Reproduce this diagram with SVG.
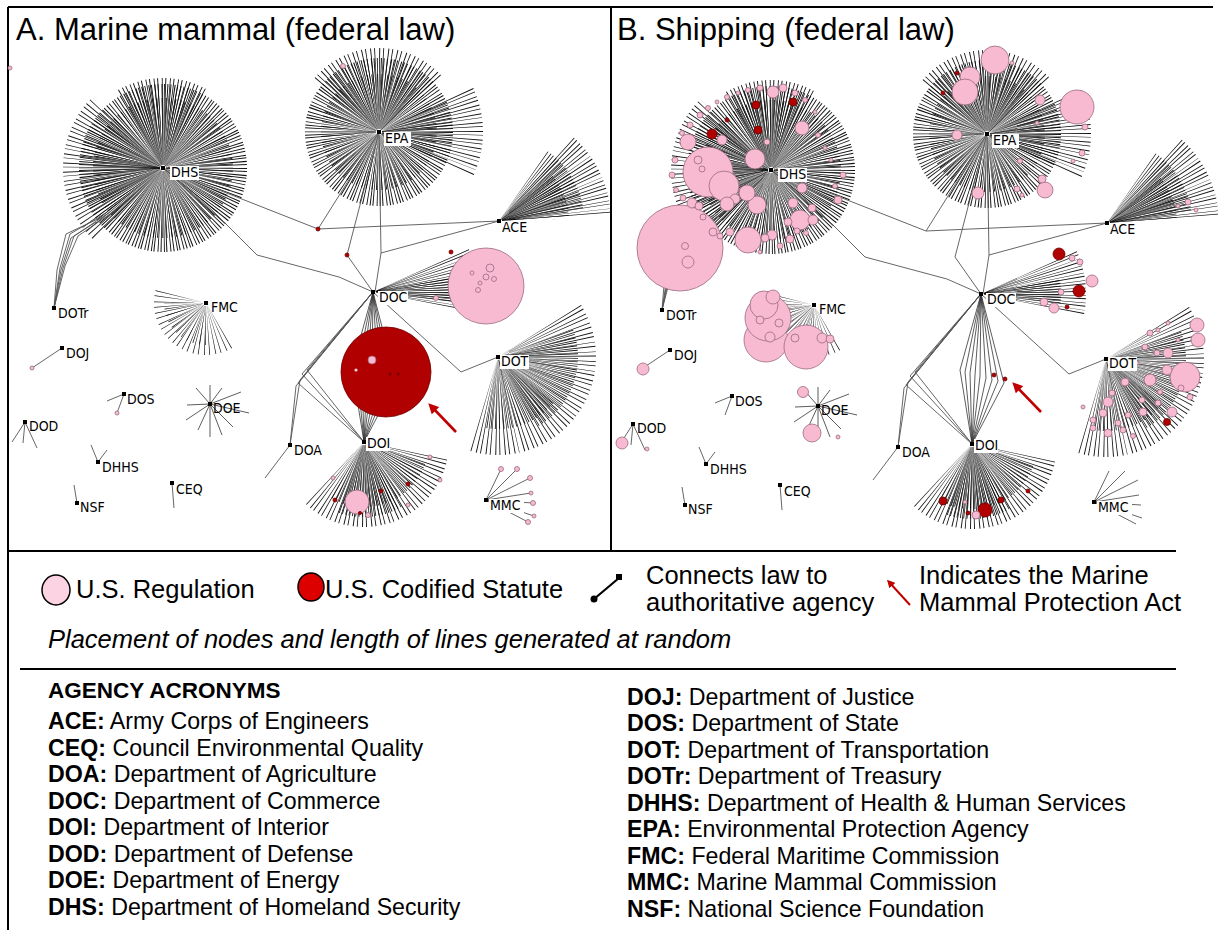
<svg xmlns="http://www.w3.org/2000/svg" xmlns:xlink="http://www.w3.org/1999/xlink" width="1218" height="930" viewBox="0 0 1218 930">
<style>
.sp{fill:none;stroke:#111}
.ln{fill:none;stroke:#555;stroke-width:0.9}
.sk{fill:none;stroke:#333;stroke-width:0.8}
.pk{fill:#f7bad0;stroke:#9b6a80;stroke-width:0.8}
.rd{fill:#b00000;stroke:#700000;stroke-width:0.8}
.hub{fill:#000}
.lbg{fill:#fff}
.lb{font-family:'DejaVu Sans Condensed','DejaVu Sans',sans-serif;font-stretch:condensed;font-size:14px;fill:#000}
.t1{font-family:'Liberation Sans',Arial,sans-serif;font-size:31px;fill:#000}
.lg{font-family:'Liberation Sans',Arial,sans-serif;font-size:25.5px;fill:#000}
.ls{font-family:'Liberation Sans',Arial,sans-serif;font-size:23.2px;fill:#000}
.fr{stroke:#000;stroke-width:2;fill:none}
.arr{stroke:#c00000;stroke-width:2.6;fill:none}
</style>
<defs>
<marker id="ah" markerWidth="4" markerHeight="4" refX="2.5" refY="2" orient="auto" markerUnits="strokeWidth">
<path d="M0,0 L4,2 L0,4 z" fill="#c00000"/>
</marker>
<g id="edges">
<!-- DHS burst -->
<circle class="sp" cx="163" cy="168" r="43.5" stroke-width="81" stroke-dasharray="0.55 1.1 0.5 1.6 0.55 0.8 0.5 1.3"/>
<circle class="sp" cx="163" cy="168" r="36.5" stroke-width="67" stroke-dasharray="0.5 1.7 0.55 2.3" stroke-dashoffset="0.7"/>
<path class="sp" d="M126.58 204.42 A51.5 51.5 0 0 1 126.58 131.58" stroke-width="97" stroke-dasharray="0.5 2.2 0.45 1.6"/>
<path class="sp" d="M139.75 127.73 A46.5 46.5 0 0 1 186.25 127.73" stroke-width="87" stroke-dasharray="0.5 1.9 0.45 1.4"/>
<!-- EPA burst -->
<circle class="sp" cx="379" cy="132" r="38.5" stroke-width="71" stroke-dasharray="0.55 1.2 0.5 1.7 0.55 0.9"/>
<circle class="sp" cx="379" cy="132" r="30.5" stroke-width="55" stroke-dasharray="0.5 1.9 0.5 2.6" stroke-dashoffset="0.5"/>
<path class="sp" d="M427.49 109.39 A53.5 53.5 0 0 1 427.49 154.61" stroke-width="101" stroke-dasharray="0.5 1.5 0.45 2.1"/>
<path class="sp" d="M345.68 104.04 A43.5 43.5 0 0 1 412.32 104.04" stroke-width="81" stroke-dasharray="0.5 1.6 0.45 2.2"/>
<!-- ACE fan -->
<path class="sp" d="M537.47 178.27 A57.5 57.5 0 0 1 556.36 216.99" stroke-width="109" stroke-dasharray="0.45 1.3 0.5 1.9"/>
<path class="sp" d="M524.24 184.96 A44 44 0 0 1 542.57 214.88" stroke-width="82" stroke-dasharray="0.45 1.5 0.45 1.1"/>
<path class="sp" d="M526.96 197.54 A36.5 36.5 0 0 1 535.48 219.73" stroke-width="67" stroke-dasharray="0.45 1.4"/>
<!-- DOC fan -->
<path class="sp" d="M422.33 270.04 A54 54 0 0 1 425.82 303.23" stroke-width="102" stroke-dasharray="0.45 1.2 0.5 1.7"/>
<path class="sp" d="M413.87 284.8 A41.5 41.5 0 0 1 414.1 297.78" stroke-width="77" stroke-dasharray="0.45 1.0"/>
<!-- DOI fan -->
<path class="sp" d="M407.04 451.15 A44 44 0 0 1 332.89 473.11" stroke-width="82" stroke-dasharray="0.45 1.6 0.5 2.3"/>
<path class="sp" d="M395.95 453.63 A34 34 0 0 1 347 471.44" stroke-width="62" stroke-dasharray="0.45 1.4 0.45 1.9"/>
<path class="sp" d="M383.5 475.77 A39 39 0 0 1 350.66 478.65" stroke-width="72" stroke-dasharray="0.45 1.3"/>
<!-- DOT fan -->
<path class="sp" d="M540.82 330.24 A50.5 50.5 0 0 1 482.4 405.03" stroke-width="95" stroke-dasharray="0.45 1.7 0.5 2.4"/>
<path class="sp" d="M537 342.81 A41.5 41.5 0 0 1 518.75 392.94" stroke-width="77" stroke-dasharray="0.45 1.9 0.45 1.4"/>
<path class="sp" d="M526.73 381.1 A37.5 37.5 0 0 1 491.49 393.93" stroke-width="69" stroke-dasharray="0.45 1.8"/>
<!-- FMC fan -->
<path class="sp" d="M219.75 326.82 A27.5 27.5 0 0 1 179.44 295.88" stroke-width="49" stroke-dasharray="0.4 2.4 0.4 2.9"/>
<path class="sp" d="M206 325.5 A22.5 22.5 0 0 1 183.5 303" stroke-width="39" stroke-dasharray="0.4 3.1"/>
<!-- connectors between agencies -->
<path class="ln" d="M163 168 L212 210 L257 255 L339 277 L373 292"/>
<path class="ln" d="M163 168 L318 229 L499 221 M318 229 L379 132"/>
<path class="ln" d="M379 132 L347 255 L373 292 M379 132 L381 253 L375 292 M381 253 L499 221"/>
<path class="ln" d="M373 292 L461 372 L498 357"/>
<path class="ln" d="M54 308 L60 268 L70 234 L104 214 M54 308 L63 268 L74 236 L110 212 M54 308 L57 270 L66 234 L100 218 M54 308 L65 266 L78 236 L116 210 M54 308 L61 270 L71 238 L96 222"/>
<path class="sk" d="M373 292 L352 368 L364 442 M373 292 L357 370 L364 442 M373 292 L362 371 L364 442 M373 292 L367 373 L364 442 M373 292 L372 374 L364 442 M373 292 L378 376 L364 442 M373 292 L384 378 L364 442 M373 292 L390 379 L364 442 M373 292 L396 381 L364 442"/>
<path class="ln" d="M373 292 L296 386 L290 445 M373 292 L300 380 L290 445 M373 292 L302 374 L364 442 M373 292 L307 370 L364 442 M373 292 L298 383 L364 442 M290 445 L265 478"/>
<path class="ln" d="M62 348 L32 368 M124 394 L107 401 M124 394 L117 413 M25 422 L12 442 M25 422 L23 443 M25 422 L37 448 M98 462 L91 445 M98 462 L107 450 M77 503 L74 485 M172 483 L174 508"/>
<path class="sk" d="M210 404 L187 405 M210 404 L196 388 M210 404 L210 385 M210 404 L222 388 M210 404 L241 392 M210 404 L249 413 M210 404 L233 427 M210 404 L222 435 M210 404 L210 437 M210 404 L198 430 M210 404 L186 420"/>
<path class="ln" d="M486 500 L501 469 M486 500 L517 469 M486 500 L530 478 M486 500 L531 493 M486 500 L533 503 M486 500 L534 516 M486 500 L528 522"/>
</g>
</defs>

<!-- frame -->
<g id="frame">
<path class="fr" d="M8 7 L1213 7 M8 7 L8 930 M611 7 L611 551 M8 551 L1176 551 M20 669 L1176 669"/>
</g>

<!-- titles -->
<text class="t1" x="16" y="40">A. Marine mammal (federal law)</text>
<text class="t1" x="617" y="40">B. Shipping (federal law)</text>

<!-- connectors -->
<g id="connectors">
<use xlink:href="#edges" href="#edges"/>
<use xlink:href="#edges" href="#edges" transform="translate(608,2)"/>
</g>

<!-- Panel A law nodes -->
<g id="laws-A">
<circle class="pk" cx="10" cy="68" r="2"/>
<circle class="pk" cx="343" cy="66" r="2.5"/>
<circle class="rd" cx="318" cy="229" r="2"/>
<circle class="rd" cx="347" cy="255" r="2"/>
<circle class="rd" cx="451" cy="252" r="2"/>
<circle class="pk" cx="436" cy="298" r="2.5"/>
<circle class="pk" cx="486" cy="286" r="38"/>
<circle class="pk" cx="490" cy="268" r="4"/>
<circle class="pk" cx="486" cy="277" r="3"/>
<circle class="pk" cx="480" cy="283" r="2"/>
<circle class="pk" cx="478" cy="290" r="2.5"/>
<circle class="pk" cx="494" cy="279" r="2.5"/>
<circle class="pk" cx="472" cy="273" r="2"/>
<circle class="rd" cx="386" cy="372" r="45"/>
<circle class="pk" cx="372" cy="360" r="4"/>
<circle cx="356" cy="370" r="1.6" fill="#f6d6dc"/>
<circle cx="390" cy="374" r="1.6" fill="#7a0000"/>
<circle cx="398" cy="374" r="1.6" fill="#7a0000"/>
<circle class="pk" cx="357" cy="502" r="12"/>
<circle class="pk" cx="430" cy="457" r="2"/>
<circle class="pk" cx="440" cy="480" r="2"/>
<circle class="pk" cx="408" cy="505" r="2"/>
<circle class="pk" cx="333" cy="478" r="2"/>
<circle class="rd" cx="335" cy="500" r="2"/>
<circle class="rd" cx="381" cy="491" r="2"/>
<circle class="rd" cx="408" cy="484" r="2"/>
<circle class="pk" cx="368" cy="515" r="2.5"/>
<circle class="rd" cx="360" cy="513" r="1.6"/>
<circle class="pk" cx="32" cy="368" r="2"/>
<circle class="pk" cx="117" cy="413" r="2"/>
<circle class="pk" cx="501" cy="469" r="2.5"/>
<circle class="pk" cx="517" cy="469" r="2.5"/>
<circle class="pk" cx="530" cy="478" r="2.5"/>
<circle class="pk" cx="531" cy="493" r="2"/>
<circle class="pk" cx="533" cy="503" r="2.5"/>
<circle class="pk" cx="534" cy="516" r="2"/>
<circle class="pk" cx="528" cy="522" r="2.5"/>
</g>

<!-- Panel B law nodes -->
<g id="laws-B">
<circle class="pk" cx="680" cy="248" r="43"/>
<circle class="pk" cx="685" cy="246" r="3.5"/>
<circle class="pk" cx="688" cy="262" r="6"/>
<circle class="pk" cx="708" cy="172" r="25"/>
<circle class="pk" cx="698" cy="160" r="4"/>
<circle class="pk" cx="702" cy="169" r="3"/>
<circle class="pk" cx="724" cy="186" r="15"/>
<circle class="pk" cx="755" cy="159" r="10"/>
<circle class="pk" cx="757" cy="205" r="9"/>
<circle class="pk" cx="748" cy="240" r="13"/>
<circle class="pk" cx="747" cy="193" r="8"/>
<circle class="pk" cx="688" cy="142" r="8"/>
<circle class="pk" cx="802" cy="128" r="7"/>
<circle class="pk" cx="773" cy="92" r="6"/>
<circle class="pk" cx="783" cy="88" r="4"/>
<circle class="pk" cx="800" cy="220" r="10"/>
<circle class="pk" cx="802" cy="188" r="5"/>
<circle class="pk" cx="793" cy="203" r="5"/>
<circle class="pk" cx="722" cy="140" r="5"/>
<circle class="pk" cx="767" cy="142" r="3"/>
<circle class="pk" cx="813" cy="220" r="5"/>
<circle class="pk" cx="788" cy="222" r="4"/>
<circle class="pk" cx="772" cy="235" r="5"/>
<circle class="pk" cx="765" cy="238" r="4"/>
<circle class="pk" cx="692" cy="203" r="5"/>
<circle class="pk" cx="699" cy="206" r="4"/>
<circle class="pk" cx="683" cy="198" r="3"/>
<circle class="pk" cx="703" cy="217" r="3"/>
<circle class="pk" cx="713" cy="232" r="4"/>
<circle class="pk" cx="720" cy="236" r="3"/>
<circle class="pk" cx="730" cy="232" r="4"/>
<circle class="pk" cx="735" cy="199" r="5"/>
<circle class="pk" cx="727" cy="204" r="7"/>
<circle class="pk" cx="838" cy="200" r="4"/>
<circle class="pk" cx="843" cy="175" r="3"/>
<circle class="pk" cx="835" cy="186" r="2.5"/>
<circle class="pk" cx="831" cy="160" r="2"/>
<circle class="pk" cx="825" cy="148" r="2"/>
<circle class="pk" cx="818" cy="135" r="2.5"/>
<circle class="pk" cx="812" cy="208" r="4"/>
<circle class="pk" cx="700" cy="115" r="3"/>
<circle class="pk" cx="708" cy="108" r="2.5"/>
<circle class="pk" cx="717" cy="102" r="2"/>
<circle class="pk" cx="727" cy="97" r="2.5"/>
<circle class="pk" cx="738" cy="93" r="2"/>
<circle class="pk" cx="748" cy="90" r="2.5"/>
<circle class="pk" cx="760" cy="88" r="3"/>
<circle class="pk" cx="795" cy="93" r="3"/>
<circle class="pk" cx="805" cy="100" r="2.5"/>
<circle class="pk" cx="815" cy="112" r="2"/>
<circle class="pk" cx="690" cy="125" r="3"/>
<circle class="pk" cx="682" cy="133" r="2.5"/>
<circle class="pk" cx="675" cy="160" r="3"/>
<circle class="pk" cx="672" cy="175" r="3"/>
<circle class="pk" cx="676" cy="190" r="2.5"/>
<circle class="pk" cx="780" cy="246" r="3"/>
<circle class="pk" cx="790" cy="239" r="4"/>
<circle class="pk" cx="797" cy="231" r="3"/>
<circle class="pk" cx="806" cy="233" r="2.5"/>
<circle class="pk" cx="760" cy="252" r="2"/>
<circle class="rd" cx="756" cy="105" r="4"/>
<circle class="rd" cx="793" cy="102" r="4"/>
<circle class="rd" cx="712" cy="134" r="5"/>
<circle class="rd" cx="758" cy="130" r="4"/>
<circle class="rd" cx="727" cy="120" r="2"/>
<!-- EPA B -->
<circle class="pk" cx="995" cy="60" r="14"/>
<circle class="pk" cx="970" cy="77" r="10"/>
<circle class="pk" cx="965" cy="92" r="13"/>
<circle class="pk" cx="1077" cy="107" r="17"/>
<circle class="pk" cx="1040" cy="100" r="5"/>
<circle class="pk" cx="1085" cy="127" r="3"/>
<circle class="pk" cx="957" cy="135" r="5"/>
<circle class="pk" cx="1082" cy="153" r="3"/>
<circle class="pk" cx="1073" cy="161" r="2"/>
<circle class="pk" cx="1045" cy="190" r="8"/>
<circle class="pk" cx="1042" cy="179" r="4"/>
<circle class="pk" cx="978" cy="193" r="6"/>
<circle class="pk" cx="1017" cy="189" r="3"/>
<circle class="pk" cx="1020" cy="161" r="2.5"/>
<circle class="pk" cx="1012" cy="63" r="2"/>
<circle class="pk" cx="1037" cy="123" r="2"/>
<circle class="pk" cx="1022" cy="195" r="2"/>
<circle class="rd" cx="957" cy="73" r="2"/>
<circle class="rd" cx="943" cy="93" r="2"/>
<!-- ACE B -->
<circle class="pk" cx="1188" cy="202" r="3"/>
<circle class="pk" cx="1196" cy="210" r="2"/>
<circle class="pk" cx="1178" cy="206" r="2"/>
<!-- DOC B -->
<circle class="rd" cx="1059" cy="254" r="6"/>
<circle class="pk" cx="1072" cy="258" r="3"/>
<circle class="pk" cx="1080" cy="262" r="3"/>
<circle class="pk" cx="1092" cy="281" r="6"/>
<circle class="rd" cx="1079" cy="291" r="6"/>
<circle class="pk" cx="1061" cy="292" r="3"/>
<circle class="pk" cx="1044" cy="302" r="4"/>
<circle class="pk" cx="1054" cy="308" r="5"/>
<circle class="rd" cx="1067" cy="307" r="2"/>
<!-- DOT B -->
<circle class="pk" cx="1185" cy="377" r="15"/>
<circle class="pk" cx="1181" cy="388" r="3"/>
<circle class="pk" cx="1197" cy="325" r="7"/>
<circle class="pk" cx="1198" cy="340" r="7"/>
<circle class="pk" cx="1168" cy="353" r="5"/>
<circle class="pk" cx="1167" cy="370" r="5"/>
<circle class="pk" cx="1150" cy="380" r="6"/>
<circle class="pk" cx="1157" cy="353" r="3"/>
<circle class="pk" cx="1145" cy="347" r="3"/>
<circle class="pk" cx="1150" cy="333" r="3"/>
<circle class="pk" cx="1168" cy="323" r="2"/>
<circle class="pk" cx="1158" cy="330" r="2"/>
<circle class="pk" cx="1125" cy="382" r="4"/>
<circle class="pk" cx="1112" cy="393" r="3"/>
<circle class="pk" cx="1108" cy="402" r="5"/>
<circle class="pk" cx="1103" cy="413" r="4"/>
<circle class="pk" cx="1093" cy="420" r="3"/>
<circle class="pk" cx="1093" cy="428" r="3"/>
<circle class="pk" cx="1108" cy="433" r="4"/>
<circle class="pk" cx="1118" cy="423" r="3"/>
<circle class="pk" cx="1128" cy="415" r="3"/>
<circle class="pk" cx="1143" cy="412" r="4"/>
<circle class="pk" cx="1142" cy="400" r="3"/>
<circle class="pk" cx="1158" cy="403" r="3"/>
<circle class="pk" cx="1172" cy="412" r="5"/>
<circle class="pk" cx="1123" cy="430" r="3"/>
<circle class="pk" cx="1133" cy="436" r="2.5"/>
<circle class="pk" cx="1083" cy="407" r="2"/>
<circle class="pk" cx="1137" cy="363" r="2"/>
<circle class="pk" cx="1178" cy="340" r="2"/>
<circle class="pk" cx="1190" cy="397" r="3"/>
<circle class="pk" cx="1160" cy="392" r="2.5"/>
<circle class="rd" cx="1167" cy="422" r="3.5"/>
<!-- FMC B -->
<circle class="pk" cx="766" cy="340" r="22"/>
<circle class="pk" cx="768" cy="318" r="23"/>
<circle class="pk" cx="806" cy="347" r="22"/>
<circle class="pk" cx="764" cy="305" r="14"/>
<circle class="pk" cx="773" cy="297" r="7"/>
<circle class="pk" cx="760" cy="320" r="4"/>
<circle class="pk" cx="779" cy="323" r="4"/>
<circle class="pk" cx="770" cy="337" r="5"/>
<circle class="pk" cx="795" cy="338" r="4"/>
<circle class="pk" cx="822" cy="338" r="5"/>
<circle class="pk" cx="830" cy="339" r="4"/>
<!-- small agencies B -->
<circle class="pk" cx="643" cy="369" r="6"/>
<circle class="pk" cx="622" cy="443" r="6"/>
<circle class="pk" cx="647" cy="449" r="2"/>
<circle class="pk" cx="803" cy="392" r="5.5"/>
<circle class="pk" cx="812" cy="433" r="9"/>
<circle class="pk" cx="838" cy="437" r="2"/>
<!-- DOI B -->
<circle class="rd" cx="985" cy="510" r="7"/>
<circle class="pk" cx="976" cy="515" r="4"/>
<circle class="rd" cx="943" cy="501" r="4"/>
<circle class="rd" cx="1001" cy="500" r="3"/>
<circle class="rd" cx="1028" cy="491" r="2"/>
<circle class="rd" cx="968" cy="513" r="2"/>
<circle class="pk" cx="965" cy="502" r="2"/>
<circle class="rd" cx="994" cy="375" r="2"/>
<circle class="rd" cx="1005" cy="379" r="2"/>
</g>

<!-- Agency nodes, panel A -->
<g id="agencies-A" class="lb">
<g id="a-DHS"><rect class="hub" x="161" y="166" width="4" height="4"/><rect class="lbg" x="170" y="166" width="29" height="14"/><text x="171" y="177">DHS</text></g>
<g id="a-EPA"><rect class="hub" x="377" y="130" width="4" height="4"/><rect class="lbg" x="384" y="132" width="27" height="14"/><text x="385" y="143">EPA</text></g>
<g id="a-ACE"><rect class="hub" x="497" y="219" width="4" height="4"/><rect class="lbg" x="501" y="221" width="28" height="14"/><text x="502" y="232">ACE</text></g>
<g id="a-DOC"><rect class="hub" x="371" y="290" width="4" height="4"/><rect class="lbg" x="378" y="291" width="30" height="14"/><text x="379" y="302">DOC</text></g>
<g id="a-DOTr"><rect class="hub" x="52" y="306" width="4" height="4"/><text x="58" y="318">DOTr</text></g>
<g id="a-FMC"><rect class="hub" x="204" y="301" width="4" height="4"/><text x="211" y="312">FMC</text></g>
<g id="a-DOJ"><rect class="hub" x="60" y="346" width="4" height="4"/><text x="66" y="358">DOJ</text></g>
<g id="a-DOS"><rect class="hub" x="122" y="392" width="4" height="4"/><text x="127" y="404">DOS</text></g>
<g id="a-DOE"><rect class="hub" x="208" y="402" width="4" height="4"/><text x="213" y="413">DOE</text></g>
<g id="a-DOD"><rect class="hub" x="23" y="420" width="4" height="4"/><text x="29" y="431">DOD</text></g>
<g id="a-DHHS"><rect class="hub" x="96" y="460" width="4" height="4"/><text x="102" y="472">DHHS</text></g>
<g id="a-CEQ"><rect class="hub" x="170" y="481" width="4" height="4"/><text x="176" y="494">CEQ</text></g>
<g id="a-NSF"><rect class="hub" x="75" y="501" width="4" height="4"/><text x="80" y="512">NSF</text></g>
<g id="a-DOA"><rect class="hub" x="288" y="443" width="4" height="4"/><text x="294" y="455">DOA</text></g>
<g id="a-DOI"><rect class="hub" x="362" y="440" width="4" height="4"/><rect class="lbg" x="366" y="437" width="24" height="14"/><text x="367" y="448">DOI</text></g>
<g id="a-DOT"><rect class="hub" x="496" y="355" width="4" height="4"/><rect class="lbg" x="500" y="355" width="29" height="14"/><text x="501" y="366">DOT</text></g>
<g id="a-MMC"><rect class="hub" x="484" y="498" width="4" height="4"/><rect class="lbg" x="489" y="499" width="35" height="14"/><text x="490" y="510">MMC</text></g>
</g>

<!-- Agency nodes, panel B -->
<g id="agencies-B" class="lb" transform="translate(608,2)">
<g id="b-DHS"><rect class="hub" x="161" y="166" width="4" height="4"/><rect class="lbg" x="170" y="166" width="29" height="14"/><text x="171" y="177">DHS</text></g>
<g id="b-EPA"><rect class="hub" x="377" y="130" width="4" height="4"/><rect class="lbg" x="384" y="132" width="27" height="14"/><text x="385" y="143">EPA</text></g>
<g id="b-ACE"><rect class="hub" x="497" y="219" width="4" height="4"/><rect class="lbg" x="501" y="221" width="28" height="14"/><text x="502" y="232">ACE</text></g>
<g id="b-DOC"><rect class="hub" x="371" y="290" width="4" height="4"/><rect class="lbg" x="378" y="291" width="30" height="14"/><text x="379" y="302">DOC</text></g>
<g id="b-DOTr"><rect class="hub" x="52" y="306" width="4" height="4"/><text x="58" y="318">DOTr</text></g>
<g id="b-FMC"><rect class="hub" x="204" y="301" width="4" height="4"/><text x="211" y="312">FMC</text></g>
<g id="b-DOJ"><rect class="hub" x="60" y="346" width="4" height="4"/><text x="66" y="358">DOJ</text></g>
<g id="b-DOS"><rect class="hub" x="122" y="392" width="4" height="4"/><text x="127" y="404">DOS</text></g>
<g id="b-DOE"><rect class="hub" x="208" y="402" width="4" height="4"/><text x="213" y="413">DOE</text></g>
<g id="b-DOD"><rect class="hub" x="23" y="420" width="4" height="4"/><text x="29" y="431">DOD</text></g>
<g id="b-DHHS"><rect class="hub" x="96" y="460" width="4" height="4"/><text x="102" y="472">DHHS</text></g>
<g id="b-CEQ"><rect class="hub" x="170" y="481" width="4" height="4"/><text x="176" y="494">CEQ</text></g>
<g id="b-NSF"><rect class="hub" x="75" y="501" width="4" height="4"/><text x="80" y="512">NSF</text></g>
<g id="b-DOA"><rect class="hub" x="288" y="443" width="4" height="4"/><text x="294" y="455">DOA</text></g>
<g id="b-DOI"><rect class="hub" x="362" y="440" width="4" height="4"/><rect class="lbg" x="366" y="437" width="24" height="14"/><text x="367" y="448">DOI</text></g>
<g id="b-DOT"><rect class="hub" x="496" y="355" width="4" height="4"/><rect class="lbg" x="500" y="355" width="29" height="14"/><text x="501" y="366">DOT</text></g>
<g id="b-MMC"><rect class="hub" x="484" y="498" width="4" height="4"/><rect class="lbg" x="489" y="499" width="35" height="14"/><text x="490" y="510">MMC</text></g>
</g>

<!-- MMPA arrows -->
<g id="mmpa-arrows">
<line class="arr" x1="456" y1="432" x2="431" y2="406" marker-end="url(#ah)"/>
<line class="arr" x1="1041" y1="412" x2="1015" y2="385" marker-end="url(#ah)"/>
</g>

<!-- Legend -->
<g id="legend">
<ellipse cx="56" cy="590" rx="14" ry="15" fill="#fcd3e2" stroke="#000" stroke-width="1.5"/>
<text class="lg" x="76" y="598">U.S. Regulation</text>
<ellipse cx="311" cy="587" rx="13" ry="14" fill="#dd0000" stroke="#000" stroke-width="1.5"/>
<text class="lg" x="325" y="598">U.S. Codified Statute</text>
<line x1="594" y1="599" x2="619" y2="578" stroke="#000" stroke-width="2.2"/>
<circle cx="594" cy="599" r="3.5" fill="#000"/>
<rect x="616" y="574" width="6" height="6" fill="#000"/>
<text class="lg" x="646" y="584">Connects law to</text>
<text class="lg" x="646" y="611">authoritative agency</text>
<line x1="910" y1="605" x2="889" y2="582" stroke="#c00000" stroke-width="2" marker-end="url(#ah)"/>
<text class="lg" x="919" y="584">Indicates the Marine</text>
<text class="lg" x="919" y="611">Mammal Protection Act</text>
<text class="lg" x="48" y="648" font-style="italic">Placement of nodes and length of lines generated at random</text>
</g>

<!-- Acronym list -->
<g id="acronyms" class="ls">
<text x="48" y="698" font-weight="bold" font-size="22.5">AGENCY ACRONYMS</text>
<text x="48" y="729"><tspan font-weight="bold">ACE:</tspan> Army Corps of Engineers</text>
<text x="48" y="756"><tspan font-weight="bold">CEQ:</tspan> Council Environmental Quality</text>
<text x="48" y="782"><tspan font-weight="bold">DOA:</tspan> Department of Agriculture</text>
<text x="48" y="809"><tspan font-weight="bold">DOC:</tspan> Department of Commerce</text>
<text x="48" y="835"><tspan font-weight="bold">DOI:</tspan> Department of Interior</text>
<text x="48" y="862"><tspan font-weight="bold">DOD:</tspan> Department of Defense</text>
<text x="48" y="888"><tspan font-weight="bold">DOE:</tspan> Department of Energy</text>
<text x="48" y="915"><tspan font-weight="bold">DHS:</tspan> Department of Homeland Security</text>
<text x="627" y="705"><tspan font-weight="bold">DOJ:</tspan> Department of Justice</text>
<text x="627" y="731"><tspan font-weight="bold">DOS:</tspan> Department of State</text>
<text x="627" y="758"><tspan font-weight="bold">DOT:</tspan> Department of Transportation</text>
<text x="627" y="784"><tspan font-weight="bold">DOTr:</tspan> Department of Treasury</text>
<text x="627" y="811"><tspan font-weight="bold">DHHS:</tspan> Department of Health &amp; Human Services</text>
<text x="627" y="837"><tspan font-weight="bold">EPA:</tspan> Environmental Protection Agency</text>
<text x="627" y="864"><tspan font-weight="bold">FMC:</tspan> Federal Maritime Commission</text>
<text x="627" y="890"><tspan font-weight="bold">MMC:</tspan> Marine Mammal Commission</text>
<text x="627" y="917"><tspan font-weight="bold">NSF:</tspan> National Science Foundation</text>
</g>
</svg>
